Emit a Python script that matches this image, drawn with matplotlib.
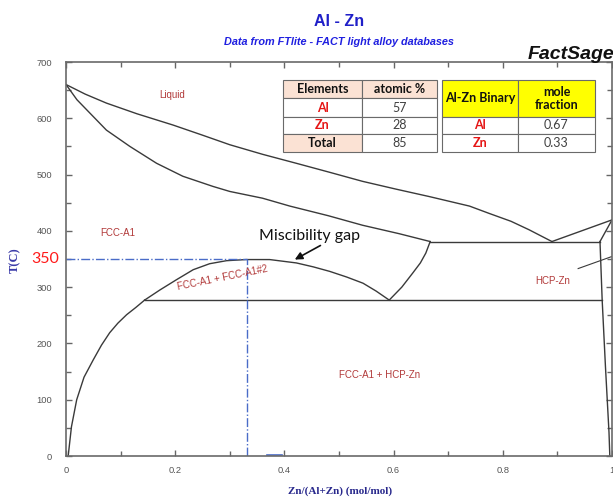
import matplotlib
matplotlib.use("Agg")
import matplotlib.pyplot as plt
from matplotlib.patches import Rectangle
from matplotlib.ticker import MultipleLocator, FixedLocator, FixedFormatter

# phase boundaries (x = Zn mole fraction, T in C)
liquidus_x = [0.0, 0.035, 0.074, 0.13, 0.196, 0.25, 0.30, 0.36, 0.422, 0.483, 0.543,
              0.605, 0.665, 0.739, 0.775, 0.815, 0.848, 0.89]
liquidus_t = [660, 643, 627, 608, 588, 570, 553, 536, 520, 504, 488,
              474, 461, 444, 431, 417, 402, 381]
zn_liquidus_x = [0.89, 1.0]
zn_liquidus_t = [381, 419.5]

solidus_x = [0.0, 0.02, 0.044, 0.074, 0.117, 0.166, 0.214, 0.269, 0.30, 0.36,
             0.41, 0.48, 0.543, 0.61, 0.667]
solidus_t = [660, 633, 609, 579, 550, 520, 497, 479, 470, 458,
             444, 427, 410, 395, 381]

fcc_solvus_x = [0.004, 0.01, 0.0196, 0.033, 0.05, 0.065, 0.080, 0.095, 0.111, 0.128, 0.144]
fcc_solvus_t = [0, 52, 100, 140, 171, 197, 219, 236, 251, 264, 277]

gap_x = [0.144, 0.172, 0.202, 0.233, 0.263, 0.294, 0.330, 0.373, 0.422, 0.453, 0.483,
         0.514, 0.544, 0.568, 0.592]
gap_t = [277, 295, 313, 331, 341.6, 347, 349, 349, 343, 336, 328, 318, 307, 293, 277]

fcc2_solvus_x = [0.592, 0.615, 0.635, 0.649, 0.659, 0.667]
fcc2_solvus_t = [277, 300, 325, 343, 360.5, 381]

hcp_solvus_x = [0.978, 0.982, 0.988, 0.9945, 0.996]
hcp_solvus_t = [381, 277, 159, 42, 0]
zn_solidus_x = [0.978, 1.0]
zn_solidus_t = [381, 419.5]

eutectic_t = 381
eutectic_x = [0.667, 0.978]
monotectoid_t = 277
monotectoid_x = [0.144, 0.982]

hcp_leader_x = [0.938, 1.0]
hcp_leader_t = [333, 354.5]

marker_t = 350
marker_x = 0.332
blue_bit_x = [0.369, 0.395]

# table contents
elements = ["Al", "Zn", "Total"]
atomic_pct = [57, 28, 85]
binary_elements = ["Al", "Zn"]
mole_fraction = [0.67, 0.33]

W, H = 613, 497
fig = plt.figure(figsize=(W / 100, H / 100), dpi=100)
ax = fig.add_axes([66 / W, (H - 456) / H, 546 / W, 394 / H])

line_kw = dict(color="#3a3a3a", lw=1.0)
ax.plot(liquidus_x, liquidus_t, **line_kw)
ax.plot(zn_liquidus_x, zn_liquidus_t, **line_kw)
ax.plot(solidus_x, solidus_t, **line_kw)
ax.plot(fcc_solvus_x, fcc_solvus_t, **line_kw)
ax.plot(gap_x, gap_t, **line_kw)
ax.plot(fcc2_solvus_x, fcc2_solvus_t, **line_kw)
ax.plot(hcp_solvus_x, hcp_solvus_t, **line_kw)
ax.plot(zn_solidus_x, zn_solidus_t, **line_kw)
ax.plot(eutectic_x, [eutectic_t] * 2, **line_kw)
ax.plot(monotectoid_x, [monotectoid_t] * 2, **line_kw)
ax.plot(hcp_leader_x, hcp_leader_t, color="#3a3a3a", lw=0.8)

blue = "#4a6cc8"
ax.plot([0, marker_x], [marker_t, marker_t], color=blue, lw=1.0, ls="-.")
ax.plot([marker_x, marker_x], [0, marker_t], color=blue, lw=1.0, ls="-.")
ax.plot(blue_bit_x, [1.5, 1.5], color=blue, lw=1.2)

ax.set_xlim(0, 1)
ax.set_ylim(0, 700)

ax.xaxis.set_major_locator(FixedLocator([0, 0.2, 0.4, 0.6, 0.8, 1.0]))
ax.xaxis.set_major_formatter(FixedFormatter(["0", "0.2", "0.4", "0.6", "0.8", "1"]))
ax.xaxis.set_minor_locator(MultipleLocator(0.1))
ax.yaxis.set_major_locator(MultipleLocator(100))
ax.yaxis.set_minor_locator(MultipleLocator(50))
ax.tick_params(which="both", direction="in", top=True, right=True,
               color="#666666", width=1.0, labelcolor="#555555", labelsize=6.7)
ax.tick_params(which="major", length=4.5)
ax.tick_params(which="minor", length=3.5)
ax.tick_params(axis="x", pad=7)
ax.tick_params(axis="y", pad=10)
for lab in ax.get_xticklabels() + ax.get_yticklabels():
    lab.set_family("Liberation Sans")
for sp in ax.spines.values():
    sp.set_color("#6a6a6a")
    sp.set_linewidth(1.2)

# phase labels
red = "#b23a3a"
lab_kw = dict(color=red, fontsize=7, family="Liberation Sans", ha="center", va="center")
ax.text(0.195, 642, "Liquid", **lab_kw)
ax.text(0.094, 397, "FCC-A1", **lab_kw)
ax.text(0.287, 317, "FCC-A1 + FCC-A1#2", rotation=11.5, rotation_mode="anchor", **lab_kw)
ax.text(0.892, 311, "HCP-Zn", **lab_kw)
ax.text(0.574, 144, "FCC-A1 + HCP-Zn", **lab_kw)

ax.text(0.447, 391, "Miscibility gap", ha="center", va="center", fontsize=11.5,
        family="Lato", color="#111111")
ax.annotate("", xy=(0.419, 349), xytext=(0.466, 374),
            arrowprops=dict(arrowstyle="-|>", color="#111111", lw=1.2,
                            mutation_scale=11, shrinkA=0, shrinkB=0))

ax.text(-0.012, marker_t, "350", transform=ax.get_yaxis_transform(),
        ha="right", va="center", color="#ff1a1a", fontsize=11.5, family="Lato")

# titles and axis labels
fig.text(339 / W, 1 - 21 / H, "Al - Zn", ha="center", va="center", fontsize=11.5,
         fontweight="bold", family="Liberation Sans", color="#1f1fc8")
fig.text(339 / W, 1 - 42 / H, "Data from FTlite - FACT light alloy databases",
         ha="center", va="center", fontsize=7.8, fontweight="bold", style="italic",
         family="Liberation Sans", color="#1f1fe0")
fig.text(528 / W, 1 - 59 / H, "FactSage", ha="left", va="baseline", fontsize=14,
         fontweight="bold", style="italic", family="Liberation Sans", color="#111111")
fig.text(340 / W, 1 - 491 / H, "Zn/(Al+Zn) (mol/mol)", ha="center", va="center",
         fontsize=8, fontweight="bold", family="Liberation Serif", color="#28288c")
fig.text(15 / W, 1 - 260 / H, "T(C)", ha="center", va="center", rotation=90,
         fontsize=9, fontweight="bold", family="Liberation Serif", color="#3a3aa8")


# tables drawn in figure pixel coordinates
def cell(x0, y0, x1, y1, face, text, color="#404040", bold=False):
    fig.add_artist(Rectangle((x0 / W, 1 - y1 / H), (x1 - x0) / W, (y1 - y0) / H,
                             transform=fig.transFigure, facecolor=face,
                             edgecolor="#6a6a6a", lw=0.8))
    fig.text((x0 + x1) / 2 / W, 1 - (y0 + y1) / 2 / H, text, ha="center", va="center",
             fontsize=9, family="Lato", color=color,
             fontweight="bold" if bold else "normal", linespacing=1.1)


pink = "#fbe2d4"
rows = [80, 98.3, 116.7, 134, 152.3]
cell(283, rows[0], 362, rows[1], pink, "Elements", "#111111", True)
cell(362, rows[0], 437, rows[1], pink, "atomic %", "#111111", True)
for i, (el, pct) in enumerate(zip(elements, atomic_pct)):
    is_total = el == "Total"
    cell(283, rows[i + 1], 362, rows[i + 2], pink if is_total else "white", el,
         "#111111" if is_total else "#e51515", True)
    cell(362, rows[i + 1], 437, rows[i + 2], "white", str(pct))

yellow = "#ffff00"
cell(442, rows[0], 518, rows[2], yellow, "Al-Zn Binary", "#111111", True)
cell(518, rows[0], 595, rows[2], yellow, "mole\nfraction", "#111111", True)
for i, (el, frac) in enumerate(zip(binary_elements, mole_fraction)):
    cell(442, rows[i + 2], 518, rows[i + 3], "white", el, "#e51515", True)
    cell(518, rows[i + 2], 595, rows[i + 3], "white", f"{frac:.2f}")

fig.savefig("out.png", dpi=100)
